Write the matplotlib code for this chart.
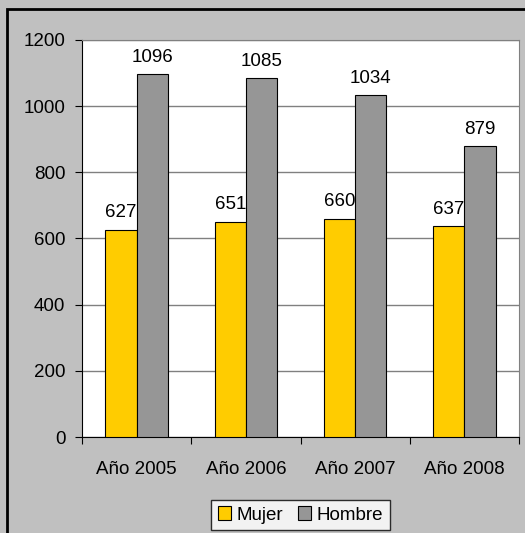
import matplotlib
matplotlib.use("Agg")

import numpy as np
import matplotlib.pyplot as plt
from matplotlib.patches import Rectangle

# ---- data ----
years = ["Año 2005", "Año 2006", "Año 2007", "Año 2008"]
mujer = [627, 651, 660, 637]
hombre = [1096, 1085, 1034, 879]
series_names = ["Mujer", "Hombre"]

# ---- style ----
BG = "#C0C0C0"
YELLOW = "#FFCC00"
GRAY = "#969696"
GRID = "#808080"
FS = 13.5

plt.rcParams["font.family"] = ["Liberation Sans", "DejaVu Sans"]
plt.rcParams["font.size"] = FS

W, H = 525, 533
fig = plt.figure(figsize=(W / 100, H / 100), dpi=100, facecolor=BG)

# outer chart border
fig.patches.append(Rectangle((7 / W, -0.1), 1.2, 1 - 9 / H + 0.1,
                             transform=fig.transFigure, fill=False,
                             edgecolor="black", linewidth=2))

left, right, top, bottom = 82, 519, 40, 437
ax = fig.add_axes([left / W, 1 - bottom / H, (right - left) / W, (bottom - top) / H])
ax.set_facecolor("white")

x = np.arange(len(years))
w = 1 / 3.5
b1 = ax.bar(x - w / 2, mujer, w, color=YELLOW, edgecolor="black", linewidth=0.8,
            label=series_names[0], zorder=3)
b2 = ax.bar(x + w / 2, hombre, w, color=GRAY, edgecolor="black", linewidth=0.8,
            label=series_names[1], zorder=3)

for bars, vals in ((b1, mujer), (b2, hombre)):
    for r, v in zip(bars, vals):
        ax.annotate(str(v), (r.get_x() + r.get_width() / 2, v),
                    xytext=(0, 6), textcoords="offset points",
                    ha="center", va="bottom", fontsize=FS, zorder=4)

ax.set_xlim(-0.5, len(years) - 0.5)
ax.set_ylim(0, 1200)
ax.set_yticks(range(0, 1201, 200))
ax.yaxis.grid(True, color=GRID, linewidth=1)
ax.set_axisbelow(True)

# category ticks between groups, labels centered
ax.set_xticks(np.arange(-0.5, len(years), 1.0))
ax.set_xticklabels([])
ax.set_xticks(x, minor=True)
ax.set_xticklabels(years, minor=True)
ax.tick_params(axis="x", which="minor", length=0, pad=17)
ax.tick_params(axis="x", which="major", length=5, color="black")
ax.tick_params(axis="y", length=5, pad=7, color="black")

for s in ("top", "right"):
    ax.spines[s].set_color(GRID)
ax.spines["left"].set_color("black")
ax.spines["bottom"].set_color("black")

leg = fig.legend(loc="center", bbox_to_anchor=(300.5 / W, 1 - 515 / H),
                 ncol=2, frameon=True, fancybox=False, edgecolor="black",
                 handlelength=0.7, handleheight=0.7, handletextpad=0.3,
                 columnspacing=0.8, borderpad=0.35, fontsize=FS)
leg.get_frame().set_linewidth(1)

fig.savefig("out.png", dpi=100, facecolor=BG)
